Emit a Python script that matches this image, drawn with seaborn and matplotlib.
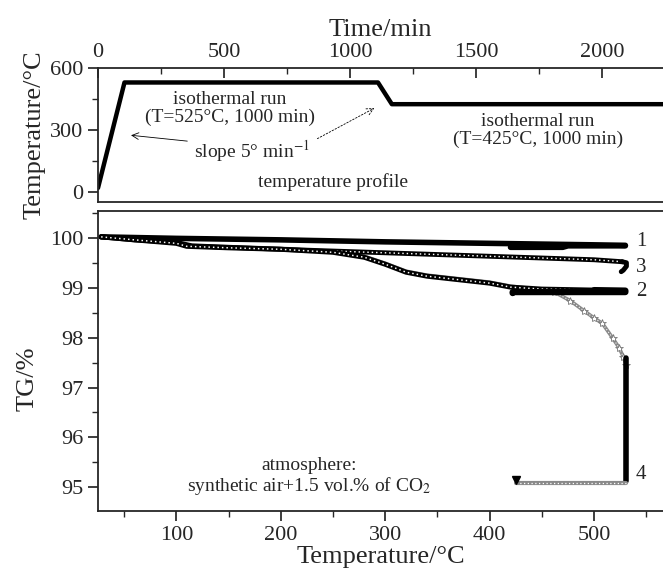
import seaborn as sns
import matplotlib.pyplot as plt
from matplotlib.ticker import MultipleLocator

# temperature program (top panel)
prog_time = [0, 105, 1110, 1165, 2240]
prog_temp = [20, 530, 530, 425, 425]

# TG curves: temperature (°C) vs mass (%), heating -> isotherm -> cooling -> isotherm
c1_T = [28, 100, 200, 300, 400, 500, 530, 530, 475, 470, 420]
c1_TG = [100.03, 100.0, 99.97, 99.93, 99.9, 99.87, 99.86, 99.85, 99.85, 99.82, 99.82]

c2_T = [28, 60, 100, 110, 150, 200, 250, 280, 300, 320, 340, 400, 420, 450, 500, 530, 530, 422, 422]
c2_TG = [100.03, 99.97, 99.9, 99.84, 99.81, 99.78, 99.72, 99.62, 99.48, 99.32, 99.24, 99.1, 99.02,
         98.98, 98.96, 98.95, 98.92, 98.92, 98.9]

c3_T = [28, 60, 100, 115, 200, 300, 400, 500, 527, 531, 531, 528, 526]
c3_TG = [100.03, 99.97, 99.92, 99.85, 99.78, 99.71, 99.64, 99.57, 99.53, 99.51, 99.44, 99.36, 99.33]

c4_T = [28, 60, 100, 110, 150, 200, 250, 280, 300, 320, 340, 400, 420, 445, 462, 477, 490,
        500, 508, 518, 524, 528, 531]
c4_TG = [100.05, 99.99, 99.93, 99.86, 99.83, 99.8, 99.74, 99.64, 99.5, 99.34, 99.26, 99.12,
         99.04, 98.98, 98.92, 98.75, 98.55, 98.4, 98.29, 97.99, 97.8, 97.62, 97.45]
c4_iso_T = [531, 531]
c4_iso_TG = [97.6, 95.12]
c4_cool_T = [531, 425]
c4_cool_TG = [95.08, 95.08]
c4_end_T = [425]
c4_end_TG = [95.15]

sns.set_theme(style='ticks')
plt.rcParams['font.family'] = ['Liberation Serif', 'DejaVu Serif']
plt.rcParams['mathtext.fontset'] = 'stix'
plt.rcParams['axes.linewidth'] = 1.3

fig = plt.figure(figsize=(6.63, 5.76), dpi=100)
W, H = 663, 576
left = 98 / W
ax_t = fig.add_axes([left, 1 - 202 / H, 1 - left, (202 - 68) / H])
ax_b = fig.add_axes([left, 1 - 511 / H, 1 - left, (511 - 211) / H])

tick_fs = 16
lab_fs = 19
fs = 14

# ---- top: temperature profile
sns.lineplot(x=prog_time, y=prog_temp, ax=ax_t, color='black', lw=3.2, sort=False, estimator=None)
ax_t.set_xlim(0, 2240)
ax_t.set_ylim(-48, 600)
ax_t.xaxis.tick_top()
ax_t.xaxis.set_label_position('top')
ax_t.set_xticks([0, 500, 1000, 1500, 2000])
ax_t.xaxis.set_minor_locator(MultipleLocator(250))
ax_t.set_yticks([0, 300, 600])
ax_t.yaxis.set_minor_locator(MultipleLocator(150))
ax_t.tick_params(axis='x', which='both', direction='in', top=True, bottom=False, labelsize=tick_fs, pad=4)
ax_t.tick_params(axis='x', which='major', length=7)
ax_t.tick_params(axis='x', which='minor', length=4)
ax_t.tick_params(axis='y', which='major', direction='out', length=7, labelsize=tick_fs)
ax_t.tick_params(axis='y', which='minor', direction='out', length=4)
ax_t.set_xlabel('Time/min', fontsize=lab_fs, labelpad=5)
ax_t.set_ylabel('Temperature/°C', fontsize=lab_fs, labelpad=3)
ax_t.spines['right'].set_visible(False)

ax_t.text(522, 406, 'isothermal run\n(T=525°C, 1000 min)', ha='center', va='center', fontsize=fs,
          linespacing=1.05)
ax_t.text(1743, 300, 'isothermal run\n(T=425°C, 1000 min)', ha='center', va='center', fontsize=fs,
          linespacing=1.05)
ax_t.text(609, 200, r'slope 5° min$^{-1}$', ha='center', va='center', fontsize=fs)
ax_t.text(933, 48, 'temperature profile', ha='center', va='center', fontsize=fs)
ax_t.annotate('', xy=(120, 276), xytext=(365, 245),
              arrowprops=dict(arrowstyle='->', color='black', lw=0.6))
ax_t.annotate('', xy=(1105, 412), xytext=(860, 252),
              arrowprops=dict(arrowstyle='->', color='black', lw=0.6, linestyle=(0, (2, 2))))

# ---- bottom: TG curves
def textured(T, TG, col, lw, dot='white'):
    sns.lineplot(x=T, y=TG, ax=ax_b, color=col, lw=lw, sort=False, estimator=None)
    ax_b.plot(T, TG, color=dot, lw=lw * 0.3, ls=(0, (1, 2)))

textured(c4_T, c4_TG, '#8a8a8a', 2.6)
ax_b.plot(c4_T[14:], c4_TG[14:], ls='none', marker='*', ms=6, mfc='white', mec='#777777', mew=0.6)
sns.lineplot(x=c1_T, y=c1_TG, ax=ax_b, color='black', lw=4, sort=False, estimator=None)
textured(c3_T[:9], c3_TG[:9], 'black', 3.5)
sns.lineplot(x=c3_T[8:], y=c3_TG[8:], ax=ax_b, color='black', lw=3.5, sort=False, estimator=None)
textured(c2_T[:15], c2_TG[:15], 'black', 3.6)
sns.lineplot(x=c2_T[14:], y=c2_TG[14:], ax=ax_b, color='black', lw=4.5, sort=False, estimator=None)
sns.lineplot(x=c4_iso_T, y=c4_iso_TG, ax=ax_b, color='black', lw=4, sort=False, estimator=None)
textured(c4_cool_T, c4_cool_TG, '#8a8a8a', 3)
ax_b.plot(c4_end_T, c4_end_TG, ls='none', marker='v', ms=6, color='black')

ax_b.set_xlim(25, 566)
ax_b.set_ylim(94.52, 100.55)
ax_b.set_xticks([100, 200, 300, 400, 500])
ax_b.xaxis.set_minor_locator(MultipleLocator(50))
ax_b.set_yticks([95, 96, 97, 98, 99, 100])
ax_b.yaxis.set_minor_locator(MultipleLocator(0.5))
ax_b.tick_params(axis='both', which='major', direction='out', length=7, labelsize=tick_fs)
ax_b.tick_params(axis='both', which='minor', direction='out', length=4)
ax_b.set_xlabel('Temperature/°C', fontsize=lab_fs, labelpad=1)
ax_b.set_ylabel('TG/%', fontsize=lab_fs, labelpad=4)
ax_b.yaxis.set_label_coords(-0.105, 0.44)
ax_b.spines['right'].set_visible(False)

for lab, tg in zip(['1', '3', '2', '4'], [99.94, 99.42, 98.94, 95.25]):
    ax_b.text(545, tg, lab, ha='center', va='center', fontsize=fs + 1)
ax_b.text(227, 95.2, 'atmosphere:\nsynthetic air+1.5 vol.% of CO$_2$', ha='center', va='center',
          fontsize=fs, linespacing=1.1)

fig.savefig('out.png', dpi=100)
